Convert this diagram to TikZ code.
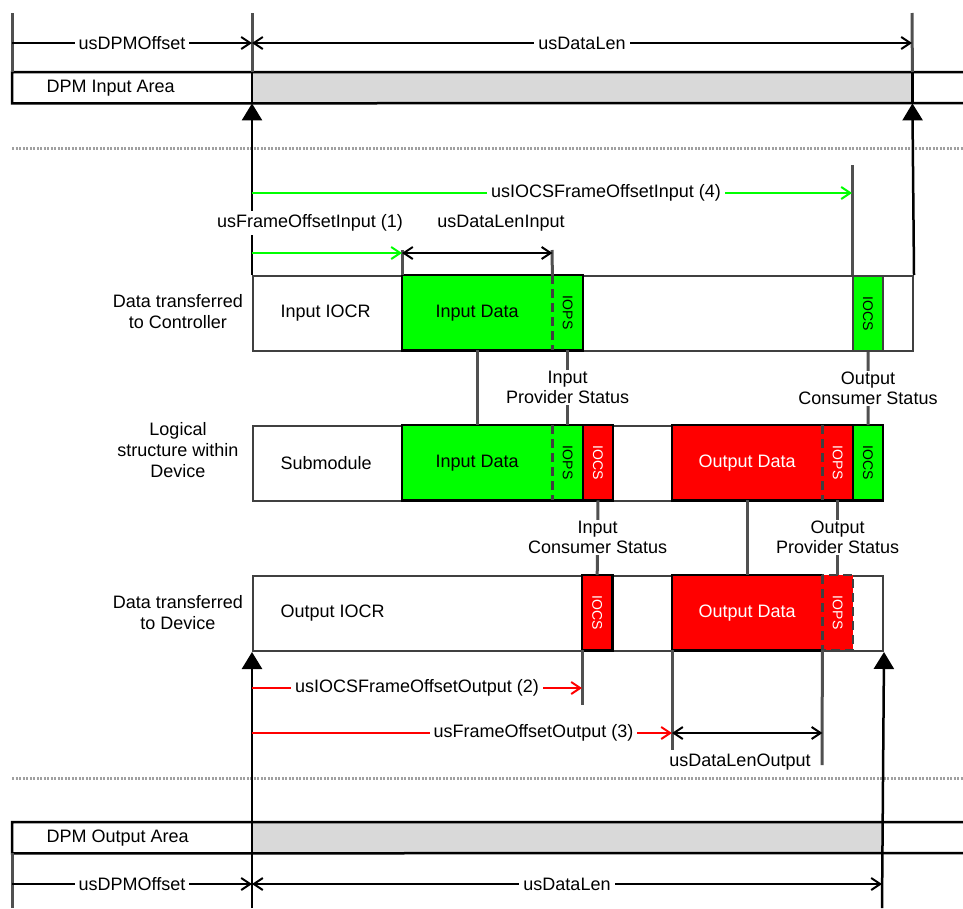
\documentclass[tikz,border=0pt]{standalone}
\usepackage{fontspec}
\setmainfont{Liberation Sans}
\usetikzlibrary{arrows.meta, positioning}

\definecolor{iogreen}{HTML}{00FF00}
\definecolor{iored}{HTML}{FF0000}
\definecolor{edgegray}{HTML}{404040}
\definecolor{guidegray}{HTML}{505050}
\definecolor{areagray}{HTML}{D9D9D9}
\definecolor{dotgray}{HTML}{A0A0A0}

\tikzset{
  area/.style={anchor=north west, inner sep=0pt, minimum height=31pt},
  rowbox/.style={draw=edgegray, line width=2pt, anchor=north west,
    inner sep=0pt, minimum height=75pt},
  cell/.style={anchor=north west, inner sep=0pt, minimum height=75pt},
  framed/.style={draw=black, line width=2.5pt},
  splitline/.style={draw=edgegray, line width=2.5pt, dash pattern=on 9pt off 5pt},
  flagtext/.style={rotate=-90, font=\fontsize{14}{16}\selectfont},
  bandline/.style={draw=black, line width=2.5pt},
  guide/.style={draw=guidegray, line width=3pt},
  dimline/.style={draw=black, line width=2pt},
  dimto/.style={-{Straight Barb[length=9pt, width=12pt]}},
  dimboth/.style={{Straight Barb[length=9pt, width=12pt]}-{Straight Barb[length=9pt, width=12pt]}},
  offsetline/.style={line width=2pt, -{Straight Barb[length=9pt, width=12pt]}},
  dimtext/.style={fill=white, inner sep=4pt},
  feed/.style={draw=black, line width=2.5pt, -{Triangle[length=17pt, width=20pt]}},
  separator/.style={draw=dotgray, line width=3pt, dash pattern=on 2pt off 1.5pt},
  statustext/.style={fill=white, align=center, inner sep=1pt, font=\fontsize{18}{20}\selectfont},
  sidetext/.style={align=center, font=\fontsize{18}{21}\selectfont},
}

\begin{document}
\begin{tikzpicture}[x=1pt, y=-1pt, font=\fontsize{18}{20}\selectfont]
  \useasboundingbox (0,0) rectangle (963,908);

  % DPM input area
  \node[area, minimum width=240pt] (inArea) at (12,72) {};
  \node[area, fill=areagray, minimum width=660pt] (inGray) at (252,72) {};
  \node[anchor=west] (inAreaTxt) at ([xshift=31pt]inArea.west) {DPM Input Area};
  \coordinate (inAreaNE) at (963,72);
  \coordinate (inAreaSE) at (963,103);
  \draw[bandline] (inAreaNE) -- (inArea.north west) -- (inArea.south west) -- (inAreaSE);
  \draw[bandline] (inGray.north west) -- (inGray.south west);
  \draw[bandline] (inGray.north east) -- (inGray.south east);
  \coordinate (topL) at (12,13);
  \coordinate (topM) at (252,13);
  \coordinate (topR) at (912,13);
  \draw[guide] (topL) -- (inArea.north west);
  \draw[guide] (topM) -- (inGray.north west);
  \draw[guide] (topR) -- (inGray.north east);
  \coordinate (dimTL) at (12,43);
  \coordinate (dimTM) at (252,43);
  \coordinate (dimTR) at (912,43);
  \draw[dimline, dimto] (dimTL) -- node[dimtext] (offTopTxt) {usDPMOffset} (dimTM);
  \draw[dimline, dimboth] (dimTM) -- node[dimtext] (lenTopTxt) {usDataLen} (dimTR);

  % separators
  \coordinate (sepAL) at (12,148);
  \coordinate (sepAR) at (963,148);
  \coordinate (sepBL) at (12,778);
  \coordinate (sepBR) at (963,778);
  \draw[separator] (sepAL) -- (sepAR);
  \draw[separator] (sepBL) -- (sepBR);

  % input IOCR
  \coordinate (inDataTop) at (402,250);
  \coordinate (inIOPSTop) at (552,250);
  \coordinate (inIOCSTop) at (852,165);
  \node[rowbox, minimum width=660pt] (inRow) at (252,275) {};
  \node[anchor=west] (inRowTxt) at ([xshift=25pt]inRow.west) {Input IOCR};
  \node[cell, minimum width=150pt] (inData) at (402,275) {};
  \node[cell, minimum width=30pt, right=0pt of inData] (inIOPS) {};
  \fill[iogreen] (inData.north west) rectangle (inIOPS.south east);
  \node (inDataTxt) at (inData) {Input Data};
  \node[cell, fill=iogreen, draw=edgegray, line width=2pt, minimum width=30pt] (inIOCS) at (852,275) {};
  \draw[framed] (inData.north west) rectangle (inIOPS.south east);
  \draw[splitline] (inIOPS.north west) -- (inIOPS.south west);
  \node[flagtext] (inIOPSTxt) at (inIOPS) {IOPS};
  \node[flagtext] (inIOCSTxt) at (inIOCS) {IOCS};
  \draw[guide] (inDataTop) -- (inData.north west);
  \draw[guide] (inIOPSTop) -- (inIOPS.north west);
  \draw[guide] (inIOCSTop) -- (inIOCS.north west);

  % submodule
  \node[rowbox, minimum width=630pt] (subRow) at (252,425) {};
  \node[anchor=west] (subRowTxt) at ([xshift=25pt]subRow.west) {Submodule};
  \node[cell, minimum width=150pt] (subInData) at (402,425) {};
  \node[cell, minimum width=30pt, right=0pt of subInData] (subInIOPS) {};
  \node[cell, fill=iored, minimum width=30pt, right=0pt of subInIOPS] (subInIOCS) {};
  \node[cell, minimum width=150pt] (subOutData) at (672,425) {};
  \node[cell, minimum width=30pt, right=0pt of subOutData] (subOutIOPS) {};
  \node[cell, fill=iogreen, minimum width=30pt, right=0pt of subOutIOPS] (subOutIOCS) {};
  \fill[iogreen] (subInData.north west) rectangle (subInIOPS.south east);
  \fill[iored] (subOutData.north west) rectangle (subOutIOPS.south east);
  \node (subInDataTxt) at (subInData) {Input Data};
  \node[text=white] (subOutDataTxt) at (subOutData) {Output Data};
  \draw[framed] (subInData.north west) rectangle (subInIOPS.south east);
  \draw[framed] (subInIOCS.north west) rectangle (subInIOCS.south east);
  \draw[framed] (subOutData.north west) rectangle (subOutIOPS.south east);
  \draw[framed] (subOutIOCS.north west) rectangle (subOutIOCS.south east);
  \draw[splitline] (subInIOPS.north west) -- (subInIOPS.south west);
  \draw[splitline] (subOutIOPS.north west) -- (subOutIOPS.south west);
  \node[flagtext] (subInIOPSTxt) at (subInIOPS) {IOPS};
  \node[flagtext, text=white] (subInIOCSTxt) at (subInIOCS) {IOCS};
  \node[flagtext, text=white] (subOutIOPSTxt) at (subOutIOPS) {IOPS};
  \node[flagtext] (subOutIOCSTxt) at (subOutIOCS) {IOCS};

  % output IOCR
  \node[rowbox, minimum width=630pt] (outRow) at (252,575) {};
  \node[anchor=west] (outRowTxt) at ([xshift=25pt]outRow.west) {Output IOCR};
  \node[cell, fill=iored, minimum width=30pt] (outIOCS) at (582,575) {};
  \node[cell, minimum width=150pt] (outData) at (672,575) {};
  \node[cell, minimum width=30pt, right=0pt of outData] (outIOPS) {};
  \fill[iored] (outData.north west) rectangle (outIOPS.south east);
  \node[text=white] (outDataTxt) at (outData) {Output Data};
  \draw[framed] (outIOCS.north west) rectangle (outIOCS.south east);
  \draw[framed] (outIOPS.north west) -- (outData.north west) -- (outData.south west) -- (outIOPS.south west);
  \draw[splitline] (outIOPS.north west) rectangle (outIOPS.south east);
  \node[flagtext, text=white] (outIOCSTxt) at (outIOCS) {IOCS};
  \node[flagtext, text=white] (outIOPSTxt) at (outIOPS) {IOPS};
  \coordinate (outIOCSBot) at (582,705);
  \coordinate (outDataBot) at (672,750);
  \coordinate (outIOPSBot) at (822,765);
  \draw[guide] (outIOCS.south west) -- (outIOCSBot);
  \draw[guide] (outData.south west) -- (outDataBot);
  \draw[guide] (outIOPS.south west) -- (outIOPSBot);

  % links between the rows
  \draw[guide] (inData.south) -- (subInData.north);
  \draw[guide] (inIOPS.south) -- node[statustext] (ipsTxt) {Input\\Provider Status} (subInIOPS.north);
  \draw[guide] (inIOCS.south) -- node[statustext] (ocsTxt) {Output\\Consumer Status} (subOutIOCS.north);
  \draw[guide] (subInIOCS.south) -- node[statustext] (icsTxt) {Input\\Consumer Status} (outIOCS.north);
  \draw[guide] (subOutData.south) -- (outData.north);
  \draw[guide] (subOutIOPS.south) -- node[statustext] (opsTxt) {Output\\Provider Status} (outIOPS.north);

  % DPM output area
  \node[area, minimum width=240pt] (outArea) at (12,822) {};
  \node[area, fill=areagray, minimum width=630pt] (outGray) at (252,822) {};
  \node[anchor=west] (outAreaTxt) at ([xshift=31pt]outArea.west) {DPM Output Area};
  \coordinate (outAreaNE) at (963,822);
  \coordinate (outAreaSE) at (963,853);
  \coordinate (botL) at (12,908);
  \coordinate (botM) at (252,908);
  \coordinate (botR) at (882,908);
  \draw[bandline] (outAreaNE) -- (outArea.north west) -- (outArea.south west) -- (outAreaSE);
  \draw[guide] (outArea.south west) -- (botL);

  % feed lines to the DPM
  \draw[feed] (inRow.north west) -- (inGray.south west);
  \draw[feed] (inRow.north east) -- (inGray.south east);
  \draw[feed] (botM) -- (outRow.south west);
  \draw[feed] (botR) -- (outRow.south east);

  % offsets and lengths
  \coordinate (iocsInL) at (252,193);
  \draw[offsetline, draw=iogreen] (iocsInL) -- node[dimtext, pos=0.59] (iocsInTxt) {usIOCSFrameOffsetInput (4)} (iocsInL -| inIOCS.west);
  \coordinate (frameInL) at (252,253);
  \draw[offsetline, draw=iogreen] (frameInL) -- (frameInL -| inData.west);
  \draw[dimline, dimboth] (frameInL -| inData.west) -- (frameInL -| inIOPS.west);
  \node[dimtext] (frameInTxt) at (310,223) {usFrameOffsetInput (1)};
  \node (lenInTxt) at (501,223) {usDataLenInput};
  \coordinate (iocsOutL) at (252,688);
  \draw[offsetline, draw=iored] (iocsOutL) -- node[dimtext, pos=0.5] (iocsOutTxt) {usIOCSFrameOffsetOutput (2)} (iocsOutL -| outIOCS.west);
  \coordinate (frameOutL) at (252,733);
  \draw[offsetline, draw=iored] (frameOutL) -- node[dimtext, pos=0.67] (frameOutTxt) {usFrameOffsetOutput (3)} (frameOutL -| outData.west);
  \draw[dimline, dimboth] (frameOutL -| outData.west) -- (frameOutL -| outIOPS.west);
  \node (lenOutTxt) at (740,762) {usDataLenOutput};
  \coordinate (dimBL) at (12,884);
  \coordinate (dimBM) at (252,884);
  \coordinate (dimBR) at (882,884);
  \draw[dimline, dimto] (dimBL) -- node[dimtext] (offBotTxt) {usDPMOffset} (dimBM);
  \draw[dimline, dimboth] (dimBM) -- node[dimtext] (lenBotTxt) {usDataLen} (dimBR);

  % row captions
  \node[sidetext] (ctrlTxt) at (178,312) {Data transferred\\to Controller};
  \node[sidetext] (devTxt) at (178,450) {Logical\\structure within\\Device};
  \node[sidetext] (toDevTxt) at (178,613) {Data transferred\\to Device};
\end{tikzpicture}
\end{document}
